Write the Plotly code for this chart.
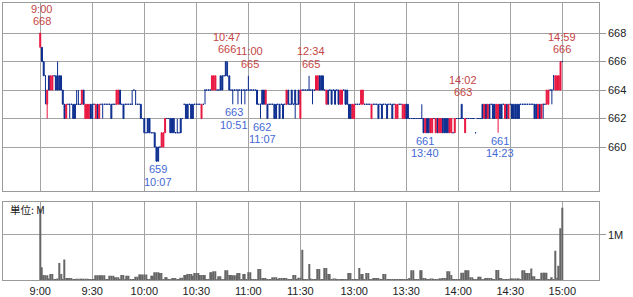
import plotly.graph_objects as go

# ---- categories: one bar per minute, morning 9:00-11:30, afternoon 12:30-15:00
sessions = [(9 * 60, 11 * 60 + 30), (12 * 60 + 30, 15 * 60)]
times = [f"{m // 60}:{m % 60:02d}" for a, b in sessions for m in range(a, b + 1)]

tick_labels = ["9:00", "9:30", "10:00", "10:30", "11:00", "11:30",
               "13:00", "13:30", "14:00", "14:30", "15:00"]

opens = [
    667,667,666,665,663,665,664,664,665,665,
    665,665,665,664,663,662,663,663,663,663,
    663,663,663,663,663,664,662,662,662,663,
    663,663,662,663,662,663,663,663,663,663,
    663,663,663,663,663,663,664,663,663,663,
    663,663,663,663,664,663,663,663,663,662,
    662,661,662,662,661,661,661,660,660,660,
    660,660,661,662,662,662,662,662,661,661,
    661,662,662,663,663,663,663,663,663,663,
    663,663,663,662,663,664,664,664,664,664,
    664,664,664,664,665,665,665,666,665,665,
    664,664,664,664,664,664,664,664,664,664,
    664,664,664,664,664,664,663,663,664,664,
    663,663,663,663,663,663,663,663,663,663,
    663,663,663,664,663,664,663,664,663,664,
    662,664,664,664,664,664,664,664,664,664,
    664,665,665,665,664,663,664,664,664,664,
    664,664,664,663,663,664,664,664,663,663,
    662,662,663,663,663,663,663,663,663,663,
    663,662,663,663,663,663,663,663,663,663,
    663,663,663,663,663,662,662,663,663,662,
    662,663,663,662,662,662,662,662,662,662,
    662,662,661,662,662,661,661,662,661,662,
    661,661,662,662,662,662,661,661,661,661,
    662,662,662,663,662,661,662,662,662,662,
    662,661,662,662,662,663,662,663,662,663,
    663,663,663,662,662,663,663,663,662,663,
    662,663,663,663,663,663,663,663,663,663,
    663,663,663,663,663,663,663,662,663,662,
    663,663,663,663,664,664,665,664,664,664,
    664,666,
]
highs = [
    668,667,666,665,664,665,665,665,665,665,
    666,665,665,664,663,663,663,663,663,663,
    663,664,664,663,664,664,663,663,663,663,
    663,663,663,663,663,663,663,663,663,663,
    663,663,663,663,664,664,664,663,663,663,
    663,663,663,664,664,664,663,663,663,662,
    662,661,662,662,661,661,661,660,660,660,
    661,661,662,662,662,662,662,662,661,662,
    661,662,662,663,663,663,663,663,663,663,
    663,663,663,663,663,664,664,664,664,665,
    665,665,664,664,665,665,665,666,666,665,
    664,664,664,664,664,664,664,664,664,664,
    665,664,664,664,664,664,663,663,664,664,
    664,663,663,663,663,663,663,663,663,663,
    663,663,664,664,663,664,663,664,663,664,
    664,664,664,664,664,665,664,664,664,665,
    665,665,665,665,664,664,664,664,664,664,
    664,664,664,664,664,664,664,664,663,663,
    663,663,663,663,663,664,664,663,663,663,
    663,663,663,663,663,663,663,663,663,663,
    663,663,663,663,663,663,663,663,663,663,
    663,663,663,662,662,662,662,662,662,662,
    663,662,662,662,662,662,662,662,662,662,
    662,662,662,662,662,662,662,662,661,662,
    662,662,662,663,662,662,662,662,662,662,
    662,661,662,662,662,663,663,663,663,663,
    663,663,663,663,663,663,663,663,663,663,
    663,663,663,663,663,663,663,663,663,663,
    663,663,663,663,663,663,663,663,663,663,
    663,663,664,664,664,664,665,665,665,665,
    666,666,
]
lows = [
    667,666,665,663,662,664,664,664,665,664,
    664,664,664,663,662,662,663,662,663,662,
    662,663,663,663,663,663,662,662,662,662,
    662,663,662,662,662,663,662,663,663,663,
    663,662,663,663,663,663,663,663,662,663,
    663,663,663,663,664,663,663,663,662,662,
    661,661,661,661,661,661,660,659,659,660,
    660,660,661,662,662,661,661,661,661,661,
    661,661,662,663,662,662,663,662,662,663,
    663,663,663,662,663,663,664,664,664,664,
    664,664,664,664,664,664,665,665,665,664,
    664,663,664,664,663,664,663,664,663,664,
    664,664,664,664,664,663,663,662,663,663,
    663,662,663,663,663,662,662,663,662,663,
    662,663,663,663,663,663,663,662,663,663,
    662,664,664,664,664,664,664,663,664,664,
    664,664,664,664,664,663,663,664,663,664,
    663,664,663,663,663,664,663,663,662,662,
    662,662,663,663,663,663,663,663,663,663,
    663,662,663,663,663,662,663,662,663,663,
    662,663,663,662,663,662,662,663,663,662,
    662,662,662,662,662,662,662,662,662,662,
    662,661,661,661,661,661,661,662,661,661,
    661,661,661,661,661,661,661,661,661,661,
    662,662,662,662,662,661,662,662,662,662,
    662,661,662,662,662,662,662,662,662,662,
    663,662,662,662,661,662,662,663,662,662,
    662,663,662,662,662,662,662,663,663,663,
    663,663,663,663,663,662,662,662,662,662,
    662,663,663,663,664,663,664,664,664,664,
    664,666,
]
closes = [
    668,666,665,665,664,664,665,665,665,664,
    664,664,664,663,662,663,663,663,663,662,
    662,663,663,663,664,663,663,663,663,662,
    662,663,663,662,663,663,663,663,663,663,
    663,662,663,663,664,664,663,663,662,663,
    663,663,663,663,664,663,663,663,662,662,
    661,661,661,661,661,661,660,659,659,660,
    661,661,662,662,662,661,661,661,661,661,
    661,661,662,663,662,662,663,662,662,663,
    663,663,663,663,663,664,664,664,664,665,
    665,665,664,664,664,664,665,665,665,664,
    664,664,664,664,664,664,664,664,664,664,
    664,664,664,664,664,663,663,663,663,663,
    664,662,663,663,663,662,662,663,662,663,
    662,663,664,663,663,663,663,663,663,663,
    664,664,664,664,664,664,664,664,664,665,
    665,664,664,664,664,664,663,664,663,664,
    663,664,663,664,664,664,663,663,662,662,
    663,663,663,663,663,664,664,663,663,663,
    663,663,663,663,663,662,663,662,663,663,
    662,663,663,662,663,663,663,663,663,663,
    663,662,662,662,662,662,662,662,662,662,
    662,661,662,661,661,662,662,662,662,661,
    662,662,661,661,661,661,662,662,661,662,
    662,662,662,662,662,662,662,662,662,662,
    662,661,662,662,662,662,663,662,663,662,
    663,662,662,663,663,662,662,663,663,662,
    663,663,662,662,662,662,662,663,663,663,
    663,663,663,663,663,662,662,663,662,663,
    663,663,664,664,664,664,665,665,665,665,
    666,666,
]
# volume in thousands of shares
volumes = [
    1570,290,120,110,110,40,140,140,30,30,
    40,380,140,30,460,50,50,50,50,20,
    20,35,35,35,35,35,35,35,20,20,
    20,20,110,110,110,110,110,110,30,20,
    100,100,100,70,70,70,20,120,120,30,
    100,100,20,20,20,80,80,130,130,130,
    130,130,20,30,100,100,180,180,180,160,
    160,20,70,70,20,30,50,50,50,20,
    20,60,60,120,120,140,140,140,100,160,
    160,160,120,120,120,120,20,20,180,180,
    200,200,30,90,90,30,20,220,220,120,
    120,110,110,110,160,160,30,140,140,30,
    180,180,20,20,20,20,250,250,50,50,
    50,20,20,20,70,70,70,20,55,55,
    55,55,55,20,20,20,120,120,30,60,
    60,670,30,20,20,360,40,20,20,30,
    250,250,30,20,270,270,140,140,30,40,
    40,20,20,20,20,20,20,20,160,160,
    20,20,20,20,270,140,140,20,160,160,
    20,20,50,50,50,50,20,20,140,140,
    20,20,20,20,20,20,20,20,20,20,
    20,20,20,50,220,220,20,20,20,220,
    220,50,50,20,20,40,40,20,20,20,
    40,40,50,50,50,200,200,120,20,20,
    20,20,20,170,170,220,220,220,70,70,
    20,20,20,80,80,20,20,50,50,50,
    50,20,20,230,230,50,50,20,20,20,
    20,40,40,40,40,40,40,20,220,220,
    160,160,160,260,90,90,20,20,20,170,
    170,170,170,20,20,70,20,650,60,320,
    1140,1590,
]

high_marks = ["9:00", "10:47", "11:00", "12:34", "14:02", "14:59"]
low_marks = ["10:07", "10:51", "11:07", "13:40", "14:23"]

price_ticks = [660, 662, 664, 666, 668]
vol_ticks = [1000]
vol_tick_text = ["1M"]

RED = "#e8153f"
BLUE = "#0b2d8f"
RED_TXT = "#c44545"
BLUE_TXT = "#4468d4"
GRID = "#a3a3a3"
FRAME = "#9a9a9a"
FONT = "Liberation Sans, Arial, sans-serif"

up = [i for i in range(len(times)) if closes[i] > opens[i]]
dn = [i for i in range(len(times)) if closes[i] <= opens[i]]

fig = go.Figure()
for idx, col in ((dn, BLUE), (up, RED)):
    side = dict(line=dict(color=col, width=1), fillcolor=col)
    fig.add_trace(go.Candlestick(
        x=[times[i] for i in idx],
        open=[opens[i] for i in idx], high=[highs[i] for i in idx],
        low=[lows[i] for i in idx], close=[closes[i] for i in idx],
        increasing=side, decreasing=side, whiskerwidth=0,
        xaxis="x", yaxis="y", showlegend=False))

fig.add_trace(go.Bar(x=times, y=volumes, marker=dict(color="#666666", line=dict(width=0)),
                     xaxis="x2", yaxis="y2", showlegend=False))

ann = []
pos = {t: i for i, t in enumerate(times)}
for t in high_marks:
    v = highs[pos[t]]
    for txt, sh in ((t, 24.3), (str(v), 12.2)):
        ann.append(dict(x=t, y=v, xref="x", yref="y", text=txt, showarrow=False,
                        yanchor="middle", xanchor="center", yshift=sh, xshift=1.5,
                        font=dict(family=FONT, size=11, color=RED_TXT)))
for t in low_marks:
    v = lows[pos[t]]
    for txt, sh in ((str(v), -8.1), (t, -20.3)):
        ann.append(dict(x=t, y=v, xref="x", yref="y", text=txt, showarrow=False,
                        yanchor="middle", xanchor="center", yshift=sh, xshift=1.5,
                        font=dict(family=FONT, size=11, color=BLUE_TXT)))
ann.append(dict(x=8 / 633, y=(297 - 211) / 297, xref="paper", yref="paper", text="単位: M",
                showarrow=False, xanchor="left", yanchor="middle",
                font=dict(family="Noto Sans CJK JP, sans-serif", size=10.5, color="#222222")))

xr = [-21.3, 322.0]
xdom = [3.3 / 633, 598.7 / 633]
common_x = dict(type="category", categoryorder="array", categoryarray=times, range=xr,
                domain=xdom, tickvals=tick_labels, showgrid=True, gridcolor=GRID, gridwidth=1,
                showline=True, mirror=True, linecolor=FRAME, linewidth=1, ticks="",
                fixedrange=True)
common_y = dict(side="right", showgrid=True, gridcolor=GRID, gridwidth=1, showline=True,
                mirror=True, linecolor=FRAME, linewidth=1, ticks="outside", ticklen=6,
                tickcolor=FRAME, zeroline=False,
                tickfont=dict(family=FONT, size=11, color="#222222"))

fig.update_layout(
    width=633, height=297, margin=dict(l=0, r=0, t=0, b=0),
    paper_bgcolor="white", plot_bgcolor="white",
    boxgap=0.45, boxgroupgap=0, bargap=0.15,
    xaxis=dict(common_x, anchor="y", showticklabels=False, rangeslider=dict(visible=False)),
    xaxis2=dict(common_x, anchor="y2", showticklabels=True, ticktext=tick_labels,
                tickfont=dict(family=FONT, size=11, color="#222222")),
    yaxis=dict(common_y, domain=[(297 - 192.3) / 297, (297 - 2.7) / 297],
               range=[656.91, 670.134], tickvals=price_ticks, anchor="x"),
    yaxis2=dict(common_y, domain=[(297 - 282.3) / 297, (297 - 203.3) / 297],
                range=[0, 1717], tickvals=vol_ticks, ticktext=vol_tick_text, anchor="x2"),
    annotations=ann,
    font=dict(family=FONT),
)

fig.write_html("out.html")
